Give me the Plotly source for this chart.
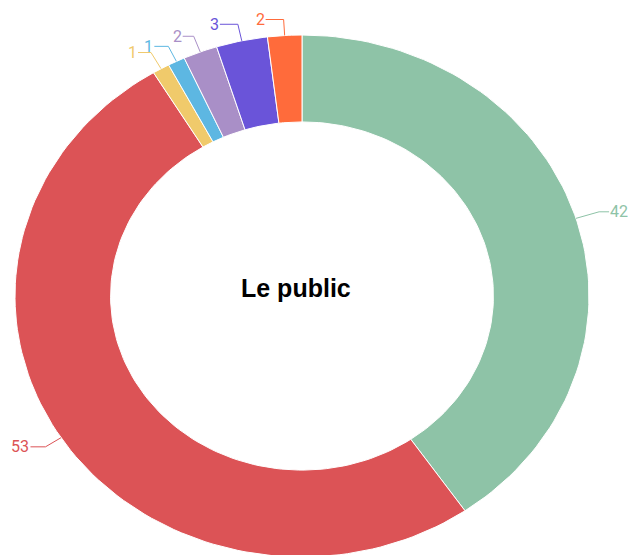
import numpy as np
import plotly.graph_objects as go

# ---- data ----
slice_names = ["Groupe 1", "Groupe 2", "Groupe 3", "Groupe 4", "Groupe 5", "Groupe 6", "Groupe 7"]
slice_values = [42, 53, 1, 1, 2, 3, 2]
slice_colors = ["#8ec3a7", "#dc5356", "#f0ca6b", "#5db7e2", "#a98fc7", "#6a54d9", "#ff6b3b"]
center_title = "Le public"

# ---- layout / style constants ----
PAGE_OFFSET = 8              # default body margin of the html page
W, H = 636 - PAGE_OFFSET, 555 - PAGE_OFFSET
CX_PX, CY_PX = 302 - PAGE_OFFSET, 296 - PAGE_OFFSET   # ring centre inside the figure
RX_PX, RY_PX = 287, 261      # outer radius (pixels) horizontally / vertically
HOLE = 0.667
leader_len1 = [24, 18, 19, 17, 17, 17, 16]   # radial part of each leader line, px
leader_len2 = [10, 15, 13, 14, 11, 18, 18]   # horizontal part, px

x_range = [-CX_PX / RX_PX, (W - CX_PX) / RX_PX]
y_range = [-(H - CY_PX) / RY_PX, CY_PX / RY_PX]

fig = go.Figure()

total = float(sum(slice_values))
cum = np.concatenate([[0.0], np.cumsum(slice_values)])

annotations = []
for i, (name, v, c) in enumerate(zip(slice_names, slice_values, slice_colors)):
    a0 = cum[i] / total * 2 * np.pi
    a1 = cum[i + 1] / total * 2 * np.pi
    t = np.linspace(a0, a1, max(8, int(200 * v / total) + 8))
    xs = np.concatenate([np.sin(t), HOLE * np.sin(t[::-1])])
    ys = np.concatenate([np.cos(t), HOLE * np.cos(t[::-1])])
    xs = np.append(xs, xs[0])
    ys = np.append(ys, ys[0])
    fig.add_trace(go.Scatter(
        x=xs, y=ys, mode="lines", fill="toself", fillcolor=c,
        line=dict(color="white", width=1), name=name, hoverinfo="skip",
        showlegend=False))

    # leader line
    L1, L2 = leader_len1[i], leader_len2[i]
    m = (a0 + a1) / 2
    p0 = np.array([np.sin(m), np.cos(m)])
    d = np.array([RX_PX * np.sin(m), RY_PX * np.cos(m)])
    d = d / np.linalg.norm(d)
    p1 = p0 + np.array([L1 * d[0] / RX_PX, L1 * d[1] / RY_PX])
    side = 1 if np.sin(m) > 0 else -1
    p2 = p1 + np.array([side * L2 / RX_PX, 0])
    fig.add_trace(go.Scatter(
        x=[p0[0], p1[0], p2[0]], y=[p0[1], p1[1], p2[1]], mode="lines",
        line=dict(color=c, width=1), hoverinfo="skip", showlegend=False))
    annotations.append(dict(
        x=p2[0], y=p2[1], xref="x", yref="y", text=str(v), showarrow=False,
        xanchor="left" if side > 0 else "right", yanchor="middle",
        font=dict(family="Roboto, Arial, sans-serif", size=16, color=c),
        borderpad=0))

annotations.append(dict(
    x=-6.5 / RX_PX, y=(296 - 288) / RY_PX, xref="x", yref="y",
    text="<b>" + center_title + "</b>", showarrow=False,
    xanchor="center", yanchor="middle",
    font=dict(family="Liberation Sans, Arial, sans-serif", size=25, color="#000000")))

fig.update_layout(
    width=W, height=H,
    margin=dict(l=0, r=0, t=0, b=0),
    paper_bgcolor="white", plot_bgcolor="white",
    xaxis=dict(range=x_range, visible=False, fixedrange=True),
    yaxis=dict(range=y_range, visible=False, fixedrange=True),
    annotations=annotations,
    hovermode=False,
    showlegend=False,
)

fig.write_html("out.html")
